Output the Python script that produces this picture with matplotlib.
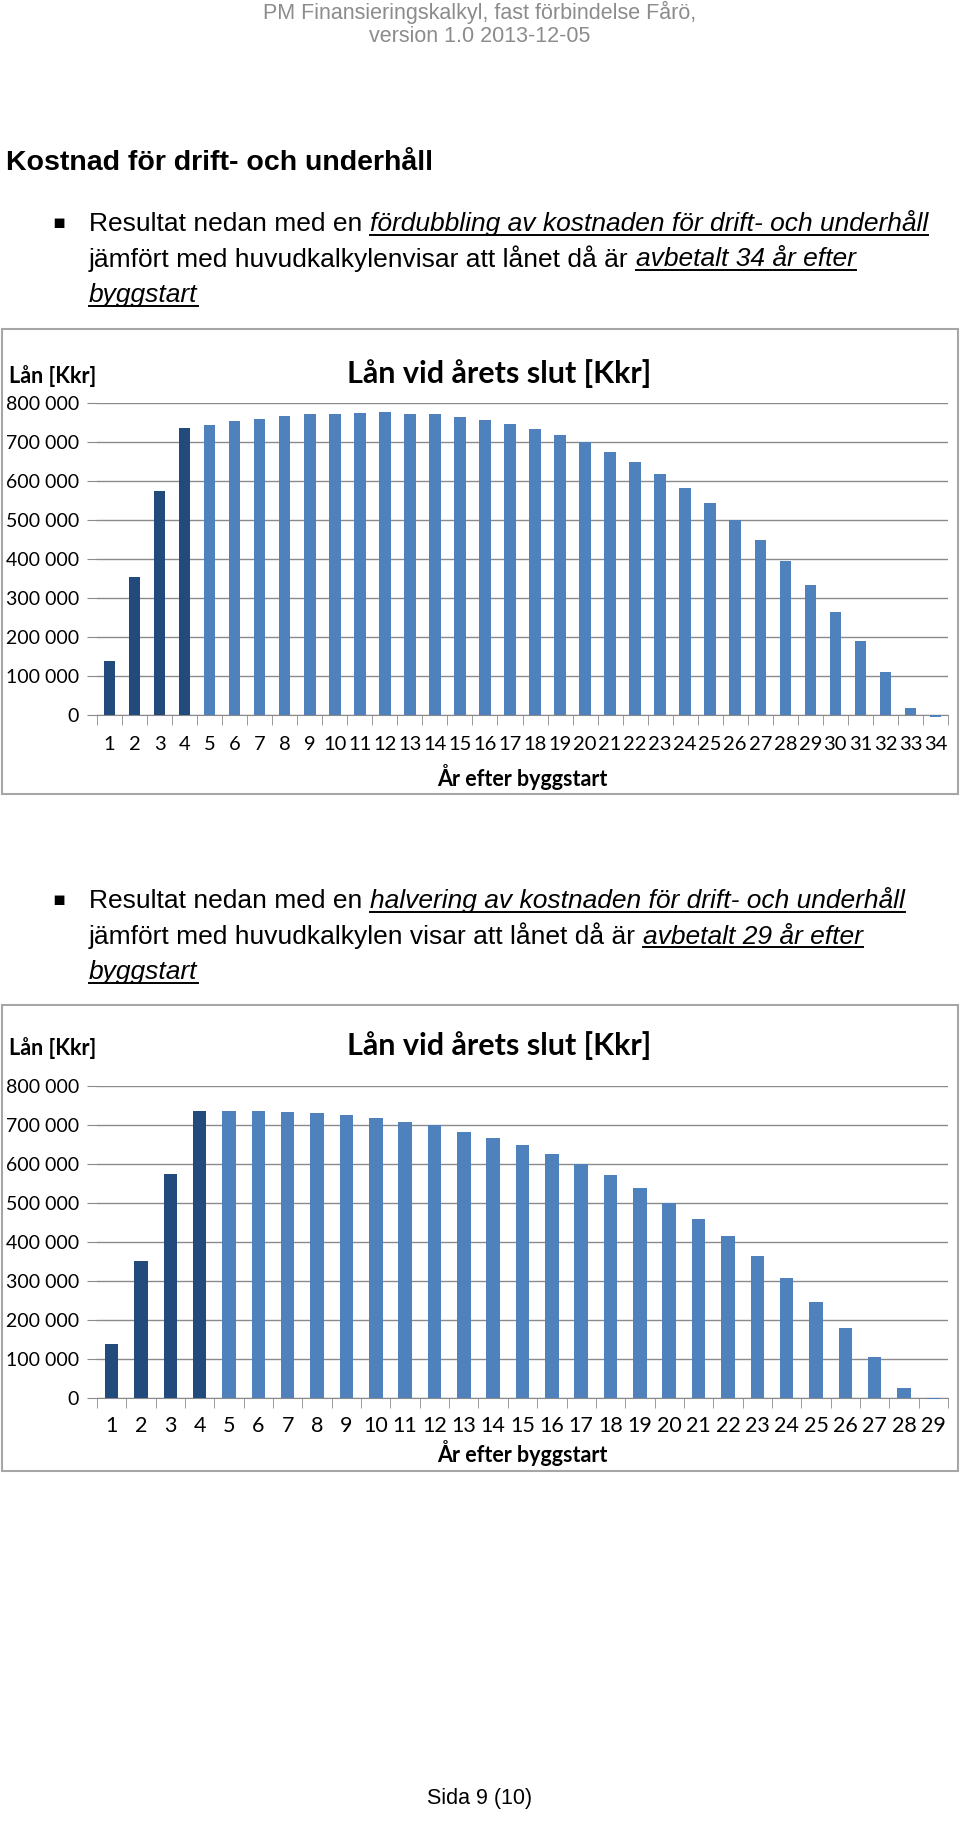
import numpy as np
import matplotlib.pyplot as plt
from matplotlib.patches import Rectangle
from matplotlib.lines import Line2D
from matplotlib.ticker import FuncFormatter

# data (Kkr at end of each year)
years_a = list(range(1, 35))
loan_a = [139000, 353000, 575000, 736000, 744000, 753000, 760000, 766000, 771000, 773000,
          775000, 776000, 773000, 771000, 765000, 756000, 746000, 733000, 717000, 699000,
          674000, 648000, 618000, 583000, 543000, 500000, 449000, 394000, 333000, 264000,
          190000, 109000, 18000, -4000]

years_b = list(range(1, 30))
loan_b = [139000, 352000, 575000, 735000, 736000, 736000, 734000, 730000, 725000, 719000,
          708000, 699000, 683000, 667000, 648000, 626000, 600000, 571000, 538000, 501000,
          460000, 415000, 364000, 308000, 246000, 179000, 105000, 25000, -3000]

build_years = 4
y_ticks = [0, 100000, 200000, 300000, 400000, 500000, 600000, 700000, 800000]

header = ['PM Finansieringskalkyl, fast förbindelse Fårö,', 'version 1.0 2013-12-05']
heading = 'Kostnad för drift- och underhåll'
bullet_a = [
    [('Resultat nedan med en ', False), ('fördubbling av kostnaden för drift- och underhåll', True)],
    [('jämfört med huvudkalkylenvisar att lånet då är ', False), ('avbetalt 34 år efter', True)],
    [('byggstart', True)],
]
bullet_b = [
    [('Resultat nedan med en ', False), ('halvering av kostnaden för drift- och underhåll', True)],
    [('jämfört med huvudkalkylen visar att lånet då är ', False), ('avbetalt 29 år efter', True)],
    [('byggstart', True)],
]
chart_title = 'Lån vid årets slut [Kkr]'
y_title = 'Lån [Kkr]'
x_title = 'År efter byggstart'
footer = 'Sida 9 (10)'

W, H = 960, 1842
dark = '#234a7c'
light = '#4f81bd'
grid_c = '#8a8a8a'
body_font = ['Liberation Sans', 'DejaVu Sans']
chart_font = ['Lato', 'DejaVu Sans']

fig = plt.figure(figsize=(W / 100, H / 100), dpi=100)
renderer = fig.canvas.get_renderer()


def fy(py):
    return 1 - py / H


def rich_line(x0, py, parts, size):
    x = x0
    for txt, emph in parts:
        t = fig.text(x / W, fy(py), txt, fontsize=size, family=body_font,
                     style='italic' if emph else 'normal', va='baseline', ha='left')
        bb = t.get_window_extent(renderer)
        if emph:
            fig.add_artist(Line2D([x / W, (x + bb.width) / W], [fy(py + 4)] * 2,
                                  color='black', lw=1.4))
        x += bb.width


def bullet(py0, lines):
    fig.text(52 / W, fy(py0 - 3), '\u25aa', fontsize=14, family=['DejaVu Sans'],
             va='baseline', ha='left')
    for i, parts in enumerate(lines):
        rich_line(89, py0 + i * 35.5, parts, 19)


def chart(box, ax_rect, years, vals, title_y, xsize, xpad, lpad):
    fig.add_artist(Rectangle((box[0] / W, fy(box[3])), (box[2] - box[0]) / W,
                             (box[3] - box[1]) / H, transform=fig.transFigure,
                             fill=False, ec='#a6a6a6', lw=1.5))
    left, top, right, bottom = ax_rect
    ax = fig.add_axes([left / W, fy(bottom), (right - left) / W, (bottom - top) / H])
    colors = [dark if y <= build_years else light for y in years]
    ax.bar(years, vals, width=0.46, color=colors, zorder=3, clip_on=False)
    ax.set_xlim(0.5, len(years) + 0.5)
    ax.set_ylim(0, 800000)
    ax.set_yticks(y_ticks)
    ax.yaxis.set_major_formatter(FuncFormatter(lambda v, p: f'{int(v):,}'.replace(',', ' ')))
    ax.grid(axis='y', color=grid_c, lw=1, zorder=0)
    for s in ['top', 'right', 'left']:
        ax.spines[s].set_visible(False)
    ax.spines['bottom'].set_color(grid_c)
    ax.set_xticks(years)
    ax.set_xticks(np.arange(0.5, len(years) + 1), minor=True)
    ax.tick_params(axis='x', which='major', length=0, pad=xpad, labelsize=xsize)
    ax.tick_params(axis='x', which='minor', length=7, color=grid_c, direction='out')
    ax.tick_params(axis='y', length=7, color=grid_c, labelsize=14, pad=6)
    for lab in ax.get_xticklabels() + ax.get_yticklabels():
        lab.set_family(chart_font)
    ax.set_xlabel(x_title, fontsize=15.5, fontweight='bold', family=chart_font, labelpad=lpad)
    ax.set_facecolor('none')
    fig.text(499 / W, fy(title_y), chart_title, fontsize=22, fontweight='bold',
             family=chart_font, ha='center', va='center')
    fig.text(9 / W, fy(title_y + 2), y_title, fontsize=15.5, fontweight='bold',
             family=chart_font, ha='left', va='center')
    return ax


fig.text(0.5, fy(12), header[0], fontsize=15.5, color='#8c8c8c', family=body_font,
         ha='center', va='center')
fig.text(0.5, fy(36), header[1], fontsize=15.5, color='#8c8c8c', family=body_font,
         ha='center', va='center')
fig.text(6 / W, fy(163), heading, fontsize=20.5, fontweight='bold', family=body_font,
         ha='left', va='center')

bullet(231, bullet_a)
chart((2, 329, 958, 794), (97, 403, 948, 715), years_a, loan_a, 374, 14.5, 15, 8)

bullet(908, bullet_b)
chart((2, 1005, 958, 1471), (97, 1086, 948, 1398), years_b, loan_b, 1046, 15.5, 13, 3)

fig.text(0.5, fy(1798), footer, fontsize=15.5, family=body_font, ha='center', va='center')

fig.savefig('out.png', dpi=100, facecolor='white')
